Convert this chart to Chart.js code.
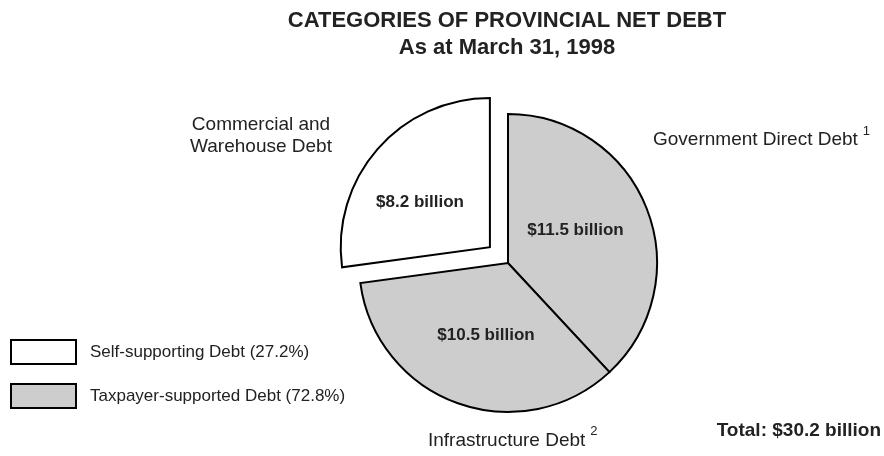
<!DOCTYPE html>
<html>
<head>
<meta charset="utf-8">
<title>Categories of Provincial Net Debt</title>
<script src="https://cdn.jsdelivr.net/npm/chart.js@4.4.0/dist/chart.umd.min.js"></script>
<style>
  html, body { margin: 0; padding: 0; background: #fff; }
  canvas { display: block; }
</style>
</head>
<body>
<canvas id="debt" width="884" height="456"></canvas>
<script>
'use strict';

// debt categories, clockwise from 12 o'clock
const categories = ['Government Direct Debt', 'Infrastructure Debt', 'Commercial and Warehouse Debt'];
const values = [11.5, 10.5, 8.2];           // $ billions
const footnotes = ['1', '2', ''];
const selfSupporting = [false, false, true];  // commercial debt pays for itself

const FONT = '"Liberation Sans", Arial, Helvetica, sans-serif';
const INK = '#222';
const GREY = '#cdcdcd';

// where the amount sits inside each slice: fraction of radius, angle nudge (deg)
const amountPlacement = [
  { r: 0.504, nudge: -4.6 },
  { r: 0.509, nudge: -2.8 },
  { r: 0.557, nudge: -8.5 }
];

const total = values.reduce((a, b) => a + b, 0);
const selfTotal = values.filter((v, i) => selfSupporting[i]).reduce((a, b) => a + b, 0);
const selfPct = (selfTotal / total * 100).toFixed(1);
const taxPct = (100 - selfTotal / total * 100).toFixed(1);

function text(ctx, str, x, y, size, bold, align) {
  ctx.font = (bold ? 'bold ' : '') + size + 'px ' + FONT;
  ctx.textAlign = align || 'center';
  ctx.textBaseline = 'middle';
  ctx.fillStyle = INK;
  ctx.fillText(str, x, y);
  return ctx.measureText(str).width;
}

const annotations = {
  id: 'annotations',
  afterDraw(chart) {
    const ctx = chart.ctx;
    ctx.save();

    // headings
    text(ctx, 'CATEGORIES OF PROVINCIAL NET DEBT', 507, 21, 22, true);
    text(ctx, 'As at March 31, 1998', 507, 48, 22, true);

    // amounts inside the slices (exploded slice carries its shift along)
    const arcs = chart.getDatasetMeta(0).data;
    arcs.forEach((arc, i) => {
      const mid = (arc.startAngle + arc.endAngle) / 2;
      const shift = (arc.options.offset || 0) / 4;
      const p = amountPlacement[i];
      const a = mid + p.nudge * Math.PI / 180;
      const r = arc.outerRadius * p.r;
      const x = arc.x + Math.cos(mid) * shift + Math.cos(a) * r;
      const y = arc.y + Math.sin(mid) * shift + Math.sin(a) * r;
      text(ctx, '$' + values[i].toFixed(1) + ' billion', x, y, 17, true);
    });

    // category names outside the pie
    let w = text(ctx, categories[0], 653, 140, 19, false, 'left');
    text(ctx, footnotes[0], 653 + w + 5, 131, 13, false, 'left');
    w = text(ctx, categories[1], 428, 441, 19, false, 'left');
    text(ctx, footnotes[1], 428 + w + 5, 431, 13, false, 'left');
    text(ctx, 'Commercial and', 261, 125, 19, false);
    text(ctx, 'Warehouse Debt', 261, 147, 19, false);

    text(ctx, 'Total: $' + total.toFixed(1) + ' billion', 881, 431, 19, true, 'right');

    // legend: self-supporting vs taxpayer-supported
    const legend = [
      { fill: '#fff', label: 'Self-supporting Debt (' + selfPct + '%)', y: 340 },
      { fill: GREY, label: 'Taxpayer-supported Debt (' + taxPct + '%)', y: 384 }
    ];
    ctx.lineWidth = 2;
    ctx.strokeStyle = '#000';
    legend.forEach(item => {
      ctx.fillStyle = item.fill;
      ctx.fillRect(11, item.y, 65, 24);
      ctx.strokeRect(11, item.y, 65, 24);
      text(ctx, item.label, 90, item.y + 12.5, 17, false, 'left');
    });

    ctx.restore();
  }
};

new Chart(document.getElementById('debt'), {
  type: 'pie',
  data: {
    labels: categories,
    datasets: [{
      data: values,
      backgroundColor: selfSupporting.map(s => s ? '#fff' : GREY),
      borderColor: '#000',
      borderWidth: 2,
      borderJoinStyle: 'miter',
      offset: selfSupporting.map(s => s ? 96 : 0)
    }]
  },
  options: {
    responsive: false,
    animation: false,
    radius: 149,
    layout: { padding: { left: 132, right: 0, top: 80, bottom: 10 } },
    plugins: {
      legend: { display: false },
      tooltip: { enabled: false }
    }
  },
  plugins: [annotations]
});
</script>
</body>
</html>
